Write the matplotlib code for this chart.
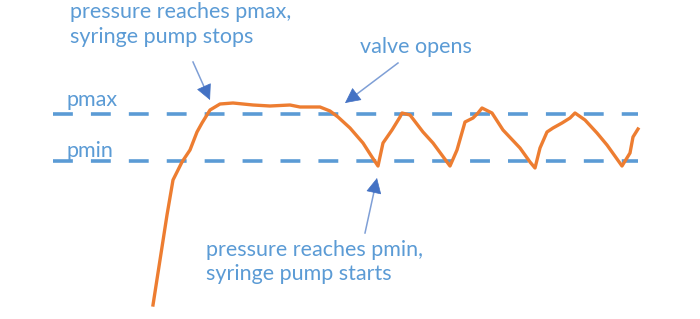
import matplotlib
matplotlib.use("Agg")
import matplotlib.pyplot as plt
import numpy as np

# pressure trace (time, pressure)
t = [153, 160, 167, 173, 182, 190, 197, 202, 210, 220, 233, 253, 270, 290, 300, 320,
     330, 338, 350, 363, 372, 378, 383, 392, 400, 402, 410, 423, 433, 447, 450, 457,
     465, 473, 478, 482, 492, 503, 520, 530, 535, 540, 547, 553, 562, 570, 575, 585,
     597, 607, 622, 630, 633, 638]
y_px = [305, 260, 215, 180, 162, 150, 132, 123, 110, 104, 103, 105, 106, 105, 107, 107,
        111, 117, 128, 143, 157, 166, 143, 130, 117, 113, 115, 132, 143, 162, 166, 150,
        122, 118, 113, 108, 113, 130, 148, 162, 168, 148, 132, 128, 123, 118, 113, 120,
        133, 145, 166, 153, 137, 129]
pressure = [319 - v for v in y_px]

pmax = 319 - 114
pmin = 319 - 161
line_start, line_end = 53, 638

blue = "#5b9bd5"
arrow_c = "#4472c4"
shaft_c = "#7f9fd6"
orange = "#ed7d31"

fig = plt.figure(figsize=(7, 3.19), dpi=100)
ax = fig.add_axes([0, 0, 1, 1])
ax.set_xlim(0, 700)
ax.set_ylim(0, 319)
ax.axis("off")

for lvl in (pmax, pmin):
    ax.plot([line_start, line_end], [lvl, lvl], color=blue, lw=2.6,
            dashes=(5.5, 5), solid_capstyle="butt")

ax.plot(t, pressure, color=orange, lw=2.4, solid_joinstyle="round")

font = "Lato"
fs = 15.5
# (x, baseline y in pixels from top, text)
labels = [
    (66, 106, "pmax"),
    (66, 157, "pmin"),
    (70, 18, "pressure reaches pmax,"),
    (70, 43, "syringe pump stops"),
    (360, 53, "valve opens"),
    (206, 256, "pressure reaches pmin,"),
    (206, 280, "syringe pump starts"),
]
for x, yb, s in labels:
    ax.text(x, 319 - yb, s, color=blue, fontsize=fs, family=font, va="baseline")

arrows = [((193, 62), (210, 100)), ((398, 63), (345, 103)), ((365, 233), (377, 178))]
for (x0, y0), (x1, y1) in arrows:
    d = np.array([x1 - x0, y1 - y0], dtype=float)
    d /= np.hypot(*d)
    bx, by = x1 - 10 * d[0], y1 - 10 * d[1]
    ax.plot([x0, bx], [319 - y0, 319 - by], color=shaft_c, lw=1.1)
    ax.annotate("", xy=(x1, 319 - y1), xytext=(bx, 319 - by),
                arrowprops=dict(arrowstyle="-|>,head_length=1.0,head_width=0.5",
                                color=arrow_c, lw=0.5, shrinkA=0, shrinkB=0))

fig.savefig("out.png", dpi=100)
